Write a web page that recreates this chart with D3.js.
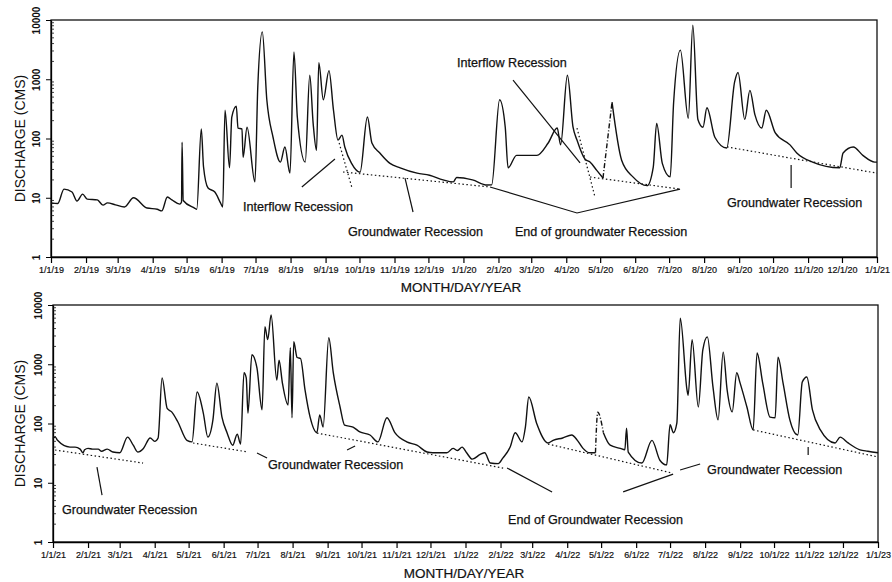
<!DOCTYPE html>
<html>
<head>
<meta charset="utf-8">
<script src="https://cdn.jsdelivr.net/npm/d3@7"></script>
<style>
  body { margin: 0; background: #fff; }
  text { font-family: Arial, "Liberation Sans", sans-serif; fill: #111; }
</style>
</head>
<body>
<div id="chart"></div>
<script>
// Daily discharge (CMS).
// Days are counted from the start of each panel (1/1/19 and 1/1/21).
var days1 = [0, 6, 11.5, 18.6, 23, 28, 32, 41, 46, 50, 57, 65, 73, 85, 94, 98, 103, 107, 114, 115.5, 116, 117,
  127, 129, 133, 135, 139, 145, 150, 152, 154, 158, 160, 164, 165.5, 169, 170, 173.5, 180.5, 183, 187, 191,
  196.5, 203, 207, 211.5, 215, 218, 225, 229, 232, 235, 237, 241, 246, 250, 254, 257.5, 260, 266, 273.5,
  280, 284, 291, 300, 309, 324, 335, 347, 356, 359, 373, 386, 390, 397, 402, 404.5, 412, 430, 440, 448,
  451, 457, 462, 465.5, 472.5, 477, 483, 488.5, 496.5, 505, 515, 527.5, 533, 536, 541, 548, 551, 557, 564,
  568, 572.5, 577, 580.5, 587.5, 598, 605, 608, 614, 618.5, 623, 629, 633, 641, 654, 660, 674, 698, 701,
  710, 718.5, 729, 731];
var flow1 = [8.2, 8, 14, 12.5, 8.8, 11.5, 9.5, 9.2, 7.5, 8.2, 7.6, 7, 10, 6.7, 6.4, 6, 10.3, 9.2, 7.8, 8.5, 87, 9,
  6.7, 6.4, 145, 33, 14.6, 12.5, 8.2, 7, 300, 32, 230, 350, 150, 145, 48, 155, 18.5, 740, 6300, 450,
  105, 40, 72, 26, 2900, 230, 40, 1170, 180, 63, 1900, 450, 1400, 300, 94, 114, 72, 38, 27,
  230, 84, 57, 38, 32, 26, 24, 20, 18.5, 22, 20, 16.4, 16.5, 450, 155, 32, 52, 52, 84, 150,
  78, 1170, 155, 94, 45, 40, 29, 21.5, 410, 43, 22.5, 16, 33, 180, 38, 22.5, 400, 3100, 220,
  8200, 210, 155, 330, 105, 69, 900, 1300, 210, 650, 250, 150, 300, 124, 78, 57, 40, 32, 57,
  72, 52, 40, 40];

var days2 = [0, 2, 4, 15, 19.5, 24, 26.5, 28, 31, 35, 40, 43, 48, 53, 59, 66, 71, 75, 80, 86, 90, 93, 96.5, 101,
  105, 110.5, 118.5, 123, 127.5, 133, 137, 141.5, 145, 149.5, 154, 159, 163, 166, 169, 171, 172.5, 176,
  180.5, 185, 187.5, 190, 193, 198, 200, 203, 208, 210, 211.5, 213, 216, 219, 223, 227.5, 233.5, 236, 239,
  244, 248, 254, 258, 265.5, 271.5, 280.5, 287.5, 295.5, 302.5, 313, 322, 331, 336, 348.5, 354, 358, 362,
  366, 371, 378, 382, 387, 394, 398, 404.5, 409, 415, 418, 421, 428, 438, 442.5, 451, 459, 464, 469, 475,
  480, 482, 487, 493, 502, 506, 507.5, 509, 521, 530, 537, 543, 546, 549, 552, 555, 561, 562, 565.5, 571,
  575, 579, 584, 588.5, 593, 596.5, 601, 605, 608, 614, 619.5, 623, 628, 634.5, 639, 641.5, 646, 652, 659,
  663, 667, 672, 679, 692, 696.5, 703.5, 714, 721, 730];
var flow2 = [56, 59, 52, 40, 40, 37, 32, 36, 38, 37, 37, 34, 37, 33, 32, 59, 43, 33, 38, 57, 50, 57, 590, 180,
  157, 106, 52, 49, 340, 150, 59, 115, 480, 128, 70, 43, 66, 45, 720, 590, 150, 1450,
  860, 170, 4300, 2600, 6800, 540, 1170, 480, 205, 1900, 125, 2400, 1300, 1250, 370, 128, 70, 140, 87,
  2800, 720, 190, 94, 87, 72, 64, 49, 125, 70, 49, 43, 33, 32, 32, 38, 35, 40,
  32, 25, 30, 32, 21.5, 21, 26, 40, 70, 49, 87, 280, 100, 47, 52, 57, 64, 52, 38, 32,
  32, 155, 70, 43, 38, 36, 83, 33, 21.5, 52, 24, 20, 95, 70, 101, 6000, 370, 300, 2600, 190,
  1750, 2900, 410, 115, 1600, 370, 157, 720, 480, 190, 78, 1550, 480, 128, 125, 1320, 480, 115, 64,
  500, 610, 170, 78, 47, 59, 47, 36, 34, 32];

// Stretches drawn dashed (estimated record)
var gaps1 = [[488.5, 496.5]];
var gaps2 = [[480, 487]];

// Recession lines [day, cms]
var dotted1 = [
  [[255, 84], [266.4, 14.6]],
  [[258.4, 27.2], [388.5, 15.2]],
  [[465.5, 150], [481.4, 10.3]],
  [[477, 22.4], [556.7, 14]],
  [[598.3, 72], [731, 26]]
];
var dotted2 = [
  [[1.8, 35.7], [79.7, 21.5]],
  [[123.9, 46.9], [172.6, 33]],
  [[233.6, 69], [398.3, 17.7]],
  [[438, 45], [547.8, 14.6]],
  [[619.5, 78], [730, 27.2]]
];

// Leader lines from the labels
var leaders1 = [
  [[222, 15.2], [251.3, 45]],
  [[313.3, 21.5], [320.4, 5.75]],
  [[388.5, 15.2], [465.5, 5.53], [556.7, 14]],
  [[408.9, 971], [468.2, 38.6]],
  [[655, 35.7], [655, 14.6]]
];
var leaders2 = [
  [[38.9, 18.4], [43.4, 6.2]],
  [[180.5, 31.8], [189.4, 26.2]],
  [[260.2, 35.7], [267.3, 41.7]],
  [[401.8, 17.7], [441.6, 7.0]],
  [[504.5, 7.0], [548.7, 14]],
  [[554.9, 16.4], [572.6, 20.7]],
  [[668.2, 40], [668.2, 29.4]]
];

// Labels, anchored at their left end [text, day, cms]
var labels1 = [
  ["Interflow Recession", 170, 5.98],
  ["Groundwater Recession", 262.8, 2.26],
  ["End of groundwater Recession", 410.6, 2.26],
  ["Interflow Recession", 359.3, 1610],
  ["Groundwater Recession", 598.3, 6.98]
];
var labels2 = [
  ["Groundwater Recession", 8, 2.97],
  ["Groundwater Recession", 190.3, 17.1],
  ["End of Groundwater Recession", 402.7, 2.01],
  ["Groundwater Recession", 578.8, 14]
];

var yTicks = [1, 10, 100, 1000, 10000];

// svg
var svgWidth = 892;
var svgHeight = 582;

var svg = d3.select("#chart")
  .append("svg")
  .attr("width", svgWidth)
  .attr("height", svgHeight);

function drawPanel(p) {
  var x = d3.scaleUtc()
    .domain([p.start, p.end])
    .range([p.left, p.right]);
  var y = d3.scaleLog()
    .domain([1, 10000])
    .range([p.bottom, p.top]);

  var dx = function(d) { return x(new Date(+p.start + d * 864e5)); };
  var line = d3.line()
    .x(d => dx(d[0]))
    .y(d => y(d[1]));
  var flowLine = d3.line()
    .x(d => dx(d[0]))
    .y(d => y(d[1]))
    .curve(d3.curveMonotoneX);

  var g = svg.append("g");

  // frame
  g.append("rect")
    .attr("x", p.left)
    .attr("y", p.top)
    .attr("width", p.right - p.left)
    .attr("height", p.bottom - p.top)
    .attr("fill", "none")
    .attr("stroke", "#111")
    .attr("stroke-width", 1.3);

  // x axis
  var xAxis = d3.axisBottom(x)
    .ticks(d3.utcMonth.every(1))
    .tickFormat(d3.utcFormat("%-m/%-d/%y"))
    .tickSize(6)
    .tickSizeOuter(0);
  var gx = g.append("g")
    .attr("transform", `translate(0,${p.bottom})`)
    .call(xAxis);
  gx.select(".domain").attr("stroke-width", 1.3);
  gx.selectAll("line").attr("stroke-width", 1.2);
  gx.selectAll("text")
    .attr("font-size", 9)
    .attr("font-family", "Arial, 'Liberation Sans', sans-serif")
    .attr("stroke", "#111")
    .attr("stroke-width", 0.2)
    .attr("dy", "0.71em")
    .attr("y", 10);

  // y axis, decade labels turned on their side
  var yAxis = d3.axisLeft(y)
    .tickValues(yTicks)
    .tickFormat(d3.format("d"))
    .tickSize(5)
    .tickSizeOuter(0);
  var gy = g.append("g")
    .attr("transform", `translate(${p.left},0)`)
    .call(yAxis);
  gy.select(".domain").attr("stroke-width", 1.3);
  gy.selectAll("text")
    .attr("font-size", 10)
    .attr("font-weight", "bold")
    .attr("font-family", "Arial, 'Liberation Sans', sans-serif")
    .attr("transform", "rotate(-90)")
    .attr("text-anchor", "middle")
    .attr("x", 0)
    .attr("y", -11)
    .attr("dy", 0);

  // minor log ticks
  var minor = [];
  yTicks.slice(0, -1).forEach(function(t) {
    d3.range(2, 10).forEach(function(m) { minor.push(t * m); });
  });
  g.selectAll(".minor")
    .data(minor)
    .enter()
    .append("line")
    .attr("x1", p.left)
    .attr("x2", p.left + 3)
    .attr("y1", d => y(d))
    .attr("y2", d => y(d))
    .attr("stroke", "#111")
    .attr("stroke-width", 0.8);

  // hydrograph, split into solid and dashed runs
  var pts = p.days.map((d, i) => [d, p.flow[i]]);
  var runs = [];
  for (var i = 0; i < pts.length - 1; i++) {
    var dash = p.gaps.some(gp => pts[i][0] >= gp[0] && pts[i + 1][0] <= gp[1]);
    var last = runs[runs.length - 1];
    if (last && last.dash === dash) last.pts.push(pts[i + 1]);
    else runs.push({ dash: dash, pts: [pts[i], pts[i + 1]] });
  }
  g.selectAll(".flow")
    .data(runs)
    .enter()
    .append("path")
    .attr("d", d => flowLine(d.pts))
    .attr("fill", "none")
    .attr("stroke", "#111")
    .attr("stroke-width", 1.4)
    .attr("stroke-linejoin", "round")
    .attr("stroke-dasharray", d => d.dash ? "5,2,1,2" : null);

  // recession lines
  g.selectAll(".rec")
    .data(p.dotted)
    .enter()
    .append("path")
    .attr("d", line)
    .attr("fill", "none")
    .attr("stroke", "#111")
    .attr("stroke-width", 1.2)
    .attr("stroke-dasharray", "1.5,2.5");

  g.selectAll(".lead")
    .data(p.leaders)
    .enter()
    .append("path")
    .attr("d", line)
    .attr("fill", "none")
    .attr("stroke", "#111")
    .attr("stroke-width", 1.2);

  g.selectAll(".lab")
    .data(p.labels)
    .enter()
    .append("text")
    .attr("x", d => dx(d[1]))
    .attr("y", d => y(d[2]))
    .attr("font-size", 12.6)
    .attr("stroke", "#111")
    .attr("stroke-width", 0.25)
    .text(d => d[0]);

  // axis titles
  g.append("text")
    .attr("transform", `translate(20, ${(p.top + p.bottom) / 2}) rotate(-90)`)
    .attr("text-anchor", "middle")
    .attr("dominant-baseline", "central")
    .attr("font-size", 14)
    .text("DISCHARGE (CMS)");

  g.append("text")
    .attr("x", p.titleX)
    .attr("y", p.titleY)
    .attr("text-anchor", "middle")
    .attr("font-size", 13.5)
    .attr("stroke", "#111")
    .attr("stroke-width", 0.2)
    .text("MONTH/DAY/YEAR");
}

drawPanel({
  start: new Date(Date.UTC(2019, 0, 1)), end: new Date(Date.UTC(2021, 0, 1)),
  left: 51, right: 877, top: 20, bottom: 257, titleX: 461, titleY: 292,
  days: days1, flow: flow1, gaps: gaps1,
  dotted: dotted1, leaders: leaders1, labels: labels1
});

drawPanel({
  start: new Date(Date.UTC(2021, 0, 1)), end: new Date(Date.UTC(2023, 0, 1)),
  left: 53, right: 878, top: 305, bottom: 542, titleX: 464, titleY: 578,
  days: days2, flow: flow2, gaps: gaps2,
  dotted: dotted2, leaders: leaders2, labels: labels2
});
</script>
</body>
</html>
